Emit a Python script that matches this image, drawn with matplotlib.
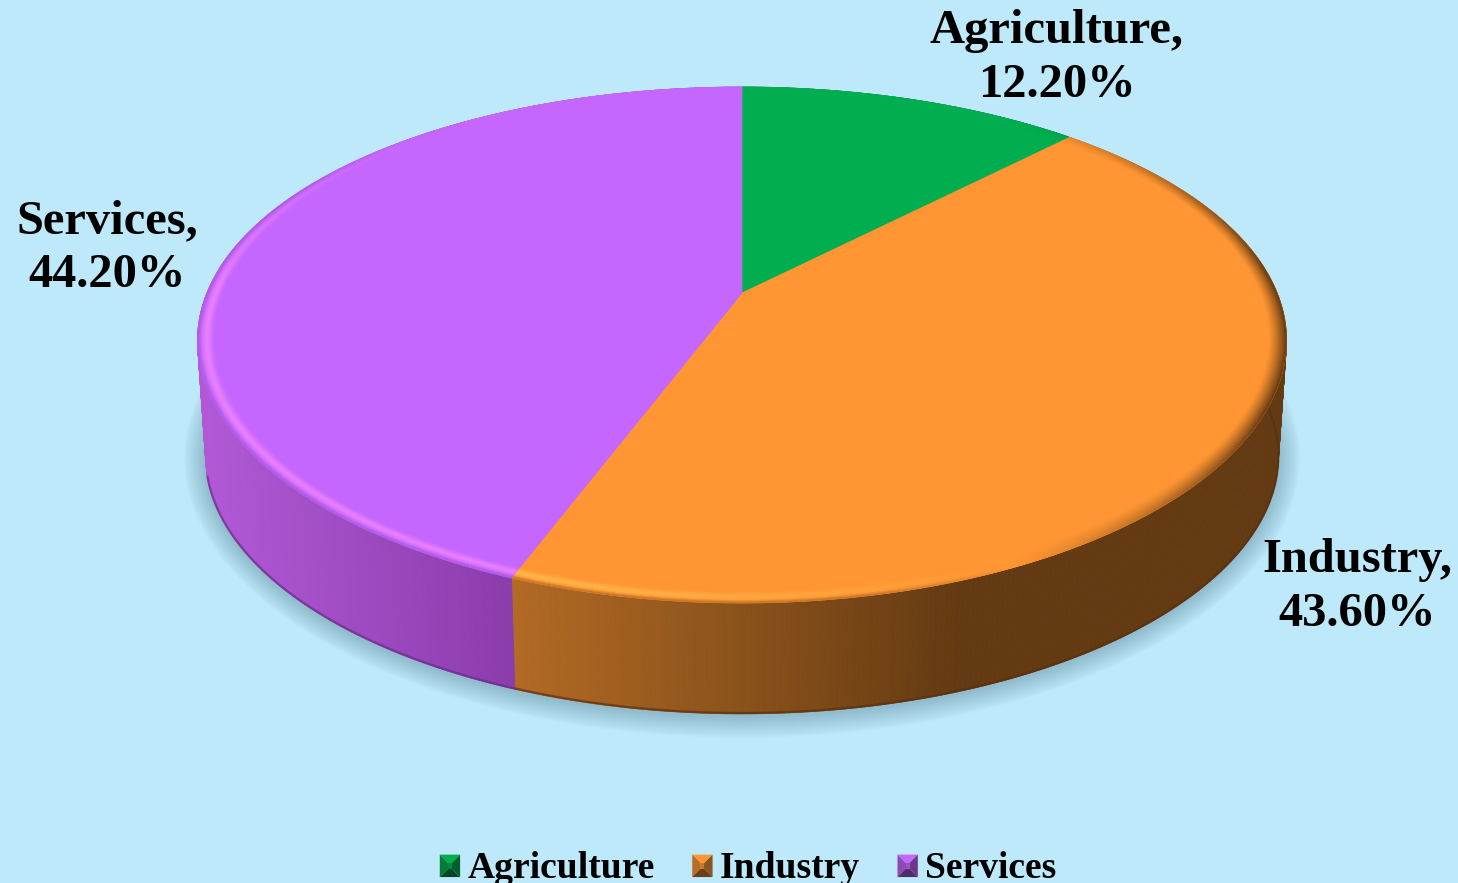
import numpy as np
import matplotlib
matplotlib.use("Agg")
import matplotlib.pyplot as plt
from matplotlib.collections import PolyCollection
from matplotlib.legend_handler import HandlerBase
from matplotlib.patches import Patch, Polygon

# Sector shares of the economy, in percent
sectors = ["Agriculture", "Industry", "Services"]
shares = [12.2, 43.6, 44.2]

# Top-face colours and the light/dark tints used for the bevel and side wall
top_colors = ["#00AE50", "#FF9633", "#C566FF"]
light_colors = ["#30D080", "#FFB648", "#EA80FF"]
rim_dark_colors = ["#00602C", "#653A12", "#8A46B0"]
side_start_colors = ["#007A38", "#B26A24", "#B258D7"]
side_end_colors = ["#005A28", "#643A12", "#8A3CAA"]
side_stop_x = [[742, 1068], [514, 960], [205, 516]]
base_edge_colors = ["#004A20", "#5A3010", "#6A2C88"]

label_centers = [(1057, 58), (1357, 587), (107, 248)]

BACKGROUND = "#BEE9FA"
SERIF = ["Liberation Serif", "DejaVu Serif"]

# Perspective disc: apex, half sizes and foreshortening factors
APEX_X, APEX_Y = 742.0, 293.0
KX, KY = 0.185, 0.2016
AX = 544.5 * np.sqrt(1 - KX ** 2)
BY = 247.5
TOP_CY, BASE_CY = 345.0, 461.0
BASE_SX, BASE_SY = 0.985, 0.98


def to_rgb(c):
    return np.array(matplotlib.colors.to_rgb(c))


def disc(theta_deg, r=1.0):
    """Project a point of the tilted disc; the angle runs clockwise from the top."""
    t = np.radians(theta_deg)
    X, Y = r * np.sin(t), r * np.cos(t)
    return APEX_X + AX * X / (1 + KX * Y), APEX_Y - BY * Y / (1 + KY * Y)


def base(theta_deg):
    x, y = disc(theta_deg)
    return APEX_X + (x - APEX_X) * BASE_SX, BASE_CY + (y - TOP_CY) * BASE_SY


def rim_light(theta_deg):
    """Signed lighting of the bevel: positive is highlight, negative is shade."""
    t = np.radians(theta_deg)
    back = np.clip(0.75 - 0.9 * np.cos(t), 0, 1)
    return np.cos(t - np.radians(245)) * back


fig = plt.figure(figsize=(14.58, 8.83), dpi=100, facecolor=BACKGROUND)
ax = fig.add_axes([0, 0, 1, 1])
ax.set_xlim(0, 1458)
ax.set_ylim(883, 0)
ax.axis("off")

# Soft drop shadow under the disc
ring = np.linspace(0, 360, 361)
bx, by = base(ring)
for grow in np.linspace(22, 0, 22):
    sx = 1 + grow / 540
    sy = 1 + grow / 253
    pts = np.column_stack([APEX_X + (bx - APEX_X) * sx, BASE_CY + 2 + (by - BASE_CY) * sy])
    ax.add_patch(Polygon(pts, closed=True, facecolor="#6E9AAC", edgecolor="none",
                         alpha=0.026, zorder=1))

edges = np.concatenate([[0], np.cumsum(shares)]) * 3.6

# Side wall, one thin vertical strip per step of arc
for i in range(len(shares)):
    n = max(int((edges[i + 1] - edges[i]) * 2), 2)
    th = np.linspace(edges[i], edges[i + 1], n + 1)
    tx, ty = disc(th)
    gx, gy = base(th)
    quads, colors = [], []
    x0, x1 = side_stop_x[i]
    c0, c1 = to_rgb(side_start_colors[i]), to_rgb(side_end_colors[i])
    for j in range(n):
        quads.append([(tx[j], ty[j]), (tx[j + 1], ty[j + 1]), (gx[j + 1], gy[j + 1]), (gx[j], gy[j])])
        f = np.clip(((tx[j] + tx[j + 1]) / 2 - x0) / (x1 - x0), 0, 1)
        colors.append(c0 + (c1 - c0) * f)
    ax.add_collection(PolyCollection(quads, facecolors=colors, edgecolors=colors,
                                     linewidths=0.6, zorder=2))

# The darker line along the foot of the wall
for i in range(len(shares)):
    th = np.linspace(max(edges[i], 75), min(edges[i + 1], 255), 200)
    if th[-1] > th[0]:
        gx, gy = base(th)
        ax.plot(gx, gy - 0.8, color=base_edge_colors[i], lw=1.6, alpha=0.7,
                solid_capstyle="butt", zorder=2.5)

# Top face
for i in range(len(shares)):
    th = np.linspace(edges[i], edges[i + 1], 300)
    x, y = disc(th)
    pts = np.vstack([[APEX_X, APEX_Y], np.column_stack([x, y])])
    ax.add_patch(Polygon(pts, closed=True, facecolor=top_colors[i],
                         edgecolor=top_colors[i], lw=0.5, zorder=3))

# Bevel around the outer edge of the top face
radii = np.linspace(0.968, 1.0, 15)
for i in range(len(shares)):
    n = max(int((edges[i + 1] - edges[i]) * 2), 2)
    th = np.linspace(edges[i], edges[i + 1], n + 1)
    base_c, light_c, dark_c = map(to_rgb, (top_colors[i], light_colors[i], rim_dark_colors[i]))
    quads, colors = [], []
    for k in range(len(radii) - 1):
        u = (k + 0.5) / (len(radii) - 1)
        xa, ya = disc(th, radii[k])
        xb, yb = disc(th, radii[k + 1])
        bump = np.exp(-((u - 0.5) / 0.27) ** 2)
        ramp = u ** 1.3
        for j in range(n):
            s = rim_light((th[j] + th[j + 1]) / 2)
            if s >= 0:
                col = base_c + (light_c - base_c) * min(1, 1.5 * s) * bump
                col = col + (dark_c - col) * 0.4 * min(1, 4 * s) * max(0, u - 0.75) / 0.25
            else:
                col = base_c + (dark_c - base_c) * min(1, 1.6 * -s) * ramp
            quads.append([(xa[j], ya[j]), (xa[j + 1], ya[j + 1]), (xb[j + 1], yb[j + 1]), (xb[j], yb[j])])
            colors.append(col)
    ax.add_collection(PolyCollection(quads, facecolors=colors, edgecolors=colors,
                                     linewidths=0.4, zorder=3.5))

# Data labels
for name, value, (cx, cy) in zip(sectors, shares, label_centers):
    ax.text(cx, cy, f"{name},\n{value:.2f}%", ha="center", va="center", fontsize=34.9,
            fontweight="bold", family=SERIF, color="black", linespacing=1.27, zorder=5)


class PyramidHandler(HandlerBase):
    """Legend key drawn as a small bevelled square."""

    def create_artists(self, legend, orig_handle, xdescent, ydescent, width, height, fontsize, trans):
        c = to_rgb(orig_handle.get_facecolor())
        x0, y0 = -xdescent, -ydescent - 1.2
        x1, y1 = x0 + width, y0 + height
        m = width * 0.42
        ix0, ix1, iy0, iy1 = x0 + m, x1 - m, y0 + m, y1 - m
        faces = [
            ([(x0, y1), (x1, y1), (ix1, iy1), (ix0, iy1)], c),
            ([(x0, y0), (x0, y1), (ix0, iy1), (ix0, iy0)], c * 0.72),
            ([(x1, y0), (x1, y1), (ix1, iy1), (ix1, iy0)], c * 0.55),
            ([(x0, y0), (x1, y0), (ix1, iy0), (ix0, iy0)], c * 0.42),
            ([(ix0, iy0), (ix1, iy0), (ix1, iy1), (ix0, iy1)], c * 0.8),
        ]
        return [Polygon(p, closed=True, facecolor=col, edgecolor="none", transform=trans)
                for p, col in faces]


handles = [Patch(facecolor=c, label=s) for c, s in zip(top_colors, sectors)]
ax.legend(handles=handles, handler_map={Patch: PyramidHandler()}, ncol=3, frameon=False,
          loc="center", bbox_to_anchor=(748, 868), bbox_transform=ax.transData,
          prop={"family": SERIF, "weight": "bold", "size": 27.1},
          handlelength=0.54, handleheight=0.54, handletextpad=0.19, columnspacing=1.0,
          borderpad=0, borderaxespad=0, labelcolor="black")

fig.savefig("out.png", dpi=100, facecolor=BACKGROUND)
